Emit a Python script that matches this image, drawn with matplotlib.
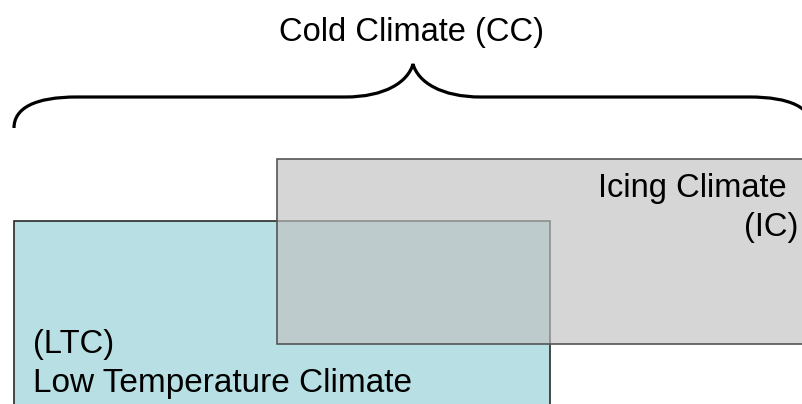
import matplotlib
matplotlib.use('Agg')
import matplotlib.pyplot as plt
from matplotlib.patches import Rectangle, PathPatch
from matplotlib.path import Path

plt.rcParams['font.family'] = ['Liberation Sans', 'DejaVu Sans']

# regions of the diagram (pixel coords of the slide: x0, y0, x1, y1)
region_names = ['Low Temperature Climate', 'Icing Climate']
region_short = ['(LTC)', '(IC)']
ltc_box = [14, 221, 550, 430]
ic_box = [277, 159, 830, 344]
title = 'Cold Climate (CC)'

teal = '#b8dfe3'
grey = (193/255, 193/255, 193/255, 0.66)

fig = plt.figure(figsize=(8.03, 4.04), dpi=100)
ax = fig.add_axes([0, 0, 1, 1])
ax.set_xlim(0, 803)
ax.set_ylim(404, 0)
ax.axis('off')

# LTC box first, IC box drawn over it semi transparent
ax.add_patch(Rectangle((ltc_box[0], ltc_box[1]), ltc_box[2] - ltc_box[0],
                       ltc_box[3] - ltc_box[1], facecolor=teal,
                       edgecolor='#2a2a2a', lw=1.2, zorder=1))
ax.add_patch(Rectangle((ic_box[0], ic_box[1]), ic_box[2] - ic_box[0],
                       ic_box[3] - ic_box[1], facecolor=grey,
                       edgecolor='#555555', lw=1.2, zorder=2))

# curly brace over everything
c = 413
verts = [(14, 128), (14, 108), (35, 97), (77, 97),
         (345, 97),
         (385, 97), (408, 82), (c, 64),
         (2*c - 408, 82), (2*c - 385, 97), (2*c - 345, 97),
         (2*c - 77, 97),
         (2*c - 35, 97), (2*c - 14, 108), (2*c - 14, 128)]
codes = [Path.MOVETO, Path.CURVE4, Path.CURVE4, Path.CURVE4,
         Path.LINETO,
         Path.CURVE4, Path.CURVE4, Path.CURVE4,
         Path.CURVE4, Path.CURVE4, Path.CURVE4,
         Path.LINETO,
         Path.CURVE4, Path.CURVE4, Path.CURVE4]
ax.add_patch(PathPatch(Path(verts, codes), facecolor='none', edgecolor='black',
                       lw=2.3, capstyle='butt', zorder=3))

fs = 23.5
ax.text(412, 41.5, title, ha='center', va='baseline', fontsize=fs, color='black')
ax.text(787, 197, region_names[1], ha='right', va='baseline', fontsize=fs, zorder=4)
ax.text(798, 236, region_short[1], ha='right', va='baseline', fontsize=fs, zorder=4)
ax.text(33, 353, region_short[0], ha='left', va='baseline', fontsize=fs, zorder=4)
ax.text(33, 392, region_names[0], ha='left', va='baseline', fontsize=24, zorder=4)

fig.savefig('out.png', dpi=100, facecolor='white')
